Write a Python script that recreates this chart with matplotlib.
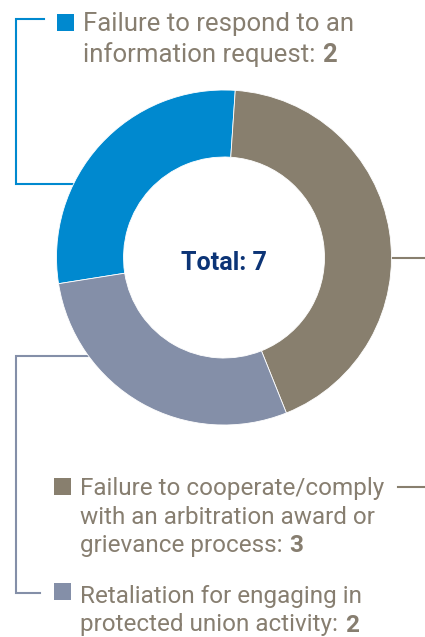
import matplotlib
matplotlib.use("Agg")
import matplotlib.pyplot as plt
from matplotlib.patches import Rectangle

W, H = 425, 637

categories = [
    "Failure to respond to an information request",
    "Failure to cooperate/comply with an arbitration award or grievance process",
    "Retaliation for engaging in protected union activity",
]
counts = [2, 3, 2]
colors = ["#0089CF", "#887F6E", "#848FA8"]
text_color = "#877E70"
navy = "#0C3476"

plt.rcParams["font.family"] = ["Roboto", "DejaVu Sans"]

fig = plt.figure(figsize=(W / 100, H / 100), dpi=100)
ax = fig.add_axes([0, 0, 1, 1])

def py(y):
    # image y (top-down) -> axes y (bottom-up)
    return H - y

cx, cy, r = 224, py(257.5), 167.5
ax.pie(counts, colors=colors, startangle=189, counterclock=False,
       center=(cx, cy), radius=r,
       wedgeprops=dict(width=r * 0.4, edgecolor="white", linewidth=0.6),
       frame=True)
ax.set_xlim(0, W)
ax.set_ylim(0, H)
ax.set_aspect("equal")
ax.axis("off")

# leader lines
lw = 1.5
ax.plot([44, 16, 16, 100], [py(19), py(19), py(184), py(184)],
        color=colors[0], lw=lw, zorder=0, solid_joinstyle="miter")
ax.plot([100, 16, 16, 40], [py(356), py(356), py(593), py(593)],
        color=colors[2], lw=lw, zorder=0, solid_joinstyle="miter")
ax.plot([370, 430], [py(258), py(258)], color=colors[1], lw=lw, zorder=0)
ax.plot([398, 430], [py(487), py(487)], color=colors[1], lw=lw, zorder=0)

renderer = fig.canvas.get_renderer()

def label(x, baselines, lines, number, color, sq, fs):
    sx, sy = sq
    ax.add_patch(Rectangle((sx, py(sy + 17)), 17, 17, color=color, lw=0))
    t = None
    for yb, line in zip(baselines, lines):
        t = ax.text(x, py(yb), line, fontsize=fs, color=text_color,
                    va="baseline", ha="left")
    bb = t.get_window_extent(renderer=renderer)
    ax.text(bb.x1 + 7, py(baselines[-1]), str(number), fontsize=fs,
            color=text_color, fontweight="bold", va="baseline", ha="left")

label(83, [31.5, 62], ["Failure to respond to an", "information request:"],
      counts[0], colors[0], (57, 14), 18.5)
label(80, [495, 523.5, 552],
      ["Failure to cooperate/comply", "with an arbitration award or",
       "grievance process:"],
      counts[1], colors[1], (54, 478), 17.5)
label(80, [603, 631.5],
      ["Retaliation for engaging in", "protected union activity:"],
      counts[2], colors[2], (54, 583), 17.5)

ax.text(cx, py(270), f"Total: {sum(counts)}", fontsize=18, color=navy,
        fontweight="bold", ha="center", va="baseline")

fig.savefig("out.png", dpi=100)
